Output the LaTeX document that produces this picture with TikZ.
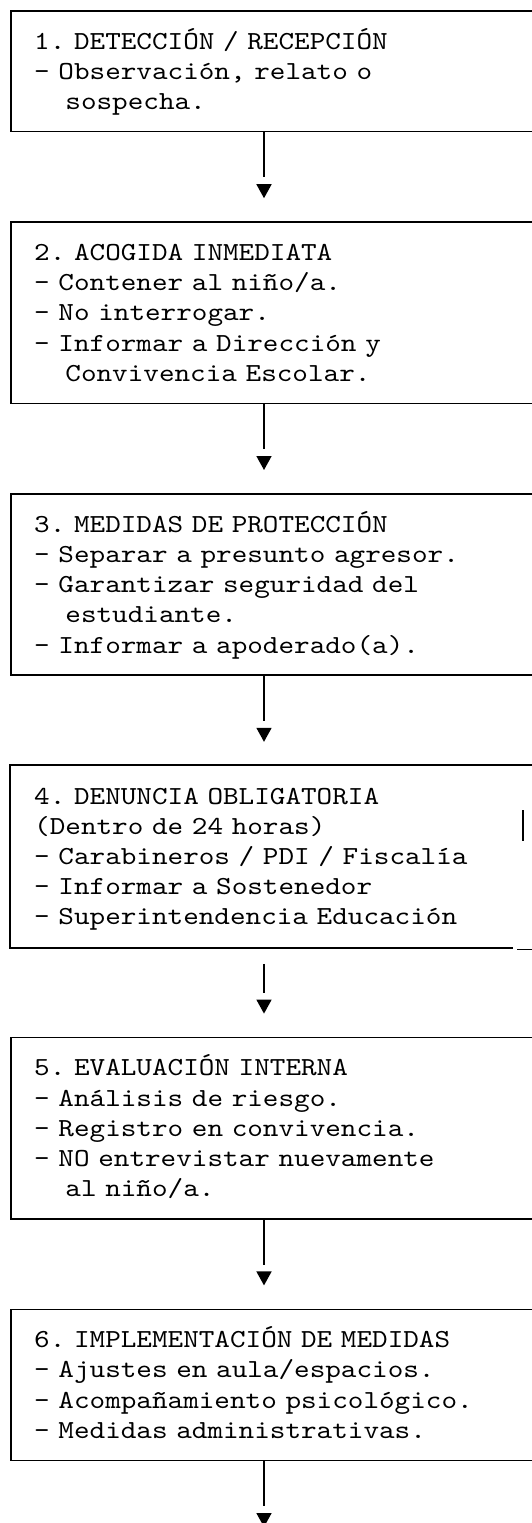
\documentclass[tikz,border=0pt]{standalone}
\usepackage{fontspec}
\usepackage{tikz}
\usetikzlibrary{arrows.meta}
\newfontfamily\boxfont{lmmono10-regular.otf}[FakeStretch=1.1429]
\tikzset{
x=1pt, y=-1pt, % one unit is one pixel, y runs downwards
step box/.style={draw, line width=1.6pt, anchor=north west, inner xsep=23.4pt, inner ysep=0pt,
  text width=560pt, align=left, text height=38.2pt,
  font={\boxfont\fontsize{26pt}{30.2pt}\selectfont\frenchspacing\spaceskip=15.6pt\xspaceskip=15.6pt\relax}}, % the framed boxes
flow/.style={line width=1.6pt, -{Triangle[width=15pt,length=14pt]},
  dash pattern=on 45pt off 200pt, shorten >=23.2pt}, % stem, gap, then the head
}
\newcommand{\ind}{\hphantom{xx}}

\begin{document}
\begin{tikzpicture}
        \useasboundingbox (0,0) rectangle (531,1523);
        \coordinate (ax) at (264,0);
        \coordinate (end) at (264,1527);

        \node[step box, text depth=82.6pt] (b1) at (10,10)
          {1. DETECCIÓN / RECEPCIÓN\\- Observación, relato o\\\ind sospecha.};
        \node[step box, text depth=143pt] (b2) at (10,221.4)
          {2. ACOGIDA INMEDIATA\\- Contener al niño/a.\\- No interrogar.\\- Informar a Dirección y\\\ind Convivencia Escolar.};
        \node[step box, text depth=143pt] (b3) at (10,493.2)
          {3. MEDIDAS DE PROTECCIÓN\\- Separar a presunto agresor.\\- Garantizar seguridad del\\\ind estudiante.\\- Informar a apoderado(a).};
        \node[step box, draw=none, text depth=143pt] (b4) at (10,765)
          {4. DENUNCIA OBLIGATORIA\\(Dentro de 24 horas)\\- Carabineros / PDI / Fiscalía\\- Informar a Sostenedor\\- Superintendencia Educación};
        \node[step box, text depth=143pt] (b5) at (10,1036.8)
          {5. EVALUACIÓN INTERNA\\- Análisis de riesgo.\\- Registro en convivencia.\\- NO entrevistar nuevamente\\\ind al niño/a.};
        \node[step box, text depth=112.8pt] (b6) at (10,1308.6)
          {6. IMPLEMENTACIÓN DE MEDIDAS\\- Ajustes en aula/espacios.\\- Acompañamiento psicológico.\\- Medidas administrativas.};

        % box 4 has a broken frame
        \draw[line width=1.6pt] (b4.north east) -- (b4.north west) -- (b4.south west) -- ++(503,0);
        \draw[line width=1pt] ([xshift=507pt,yshift=-1.5pt]b4.south west) -- ([yshift=-1.5pt]b4.south east);
        \draw[line width=1.6pt] ([xshift=513pt,yshift=-45pt]b4.north west) -- ++(0,31);

        \draw[flow] (b1.south -| ax) -- (b2.north -| ax);
        \draw[flow] (b2.south -| ax) -- (b3.north -| ax);
        \draw[flow] (b3.south -| ax) -- (b4.north -| ax);
        \draw[flow, shorten <=16pt, dash pattern=on 29pt off 200pt] (b4.south -| ax) -- (b5.north -| ax);
        \draw[flow] (b5.south -| ax) -- (b6.north -| ax);
        \draw[flow, shorten >=0pt] (b6.south -| ax) -- (end);
      \end{tikzpicture}
\end{document}
